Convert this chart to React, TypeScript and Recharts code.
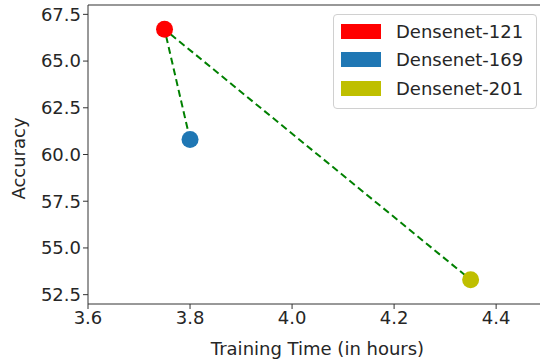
import React from 'react';
import { ComposedChart, Scatter, XAxis, YAxis, ReferenceLine } from 'recharts';

const models = ['Densenet-121', 'Densenet-169', 'Densenet-201'];
const trainingHours = [3.75, 3.8, 4.35];
const accuracy = [66.7, 60.8, 53.3];
const colors = ['#ff0000', '#1f77b4', '#bfbf00'];
// order in which the dashed line visits the models
const pathOrder = [1, 0, 2];
const xTicks = [3.6, 3.8, 4.0, 4.2, 4.4];
const yTicks = [52.5, 55.0, 57.5, 60.0, 62.5, 65.0, 67.5];

const font = '"DejaVu Sans", sans-serif';
const textColor = '#262626';

const points = models.map((name, i) => ({ name, x: trainingHours[i], y: accuracy[i], color: colors[i] }));
const pathData = pathOrder.map(i => points[i]);

const LegendBox = () => (
  <div
    style={{
      position: 'absolute',
      left: 333,
      top: 14,
      width: 204,
      boxSizing: 'border-box',
      border: '1px solid #d0d0d0',
      borderRadius: 4,
      background: 'rgba(255,255,255,0.9)',
      padding: '2px 6px 5px 7px',
      fontFamily: font,
      fontSize: 18,
      color: textColor,
    }}
  >
    {points.map(p => (
      <div key={p.name} style={{ display: 'flex', alignItems: 'center', height: 28.5 }}>
        <span style={{ width: 40, height: 15, background: p.color, marginRight: 15 }} />
        <span>{p.name}</span>
      </div>
    ))}
  </div>
);

const YLabel = ({ viewBox }: any) => {
  const cx = viewBox.x + 18;
  const cy = viewBox.y + viewBox.height / 2 + 4;
  return (
    <text
      x={cx}
      y={cy}
      transform={`rotate(-90, ${cx}, ${cy})`}
      textAnchor='middle'
      dominantBaseline='central'
      fontFamily={font}
      fontSize={18}
      fill={textColor}
    >
      Accuracy
    </text>
  );
};

// the original axes run slightly past the right edge of the picture
const XLabel = ({ viewBox }: any) => (
  <text
    x={viewBox.x + viewBox.width / 2 + 3.5}
    y={viewBox.y + 44}
    textAnchor='middle'
    dominantBaseline='central'
    fontFamily={font}
    fontSize={18}
    fill={textColor}
  >
    Training Time (in hours)
  </text>
);

export default function App() {
  return (
    <div style={{ position: 'absolute', left: 0, top: 0, width: 540, height: 362, background: '#fff' }}>
      <ComposedChart width={540} height={362} margin={{ top: 5, right: 0, left: 0, bottom: 0 }}>
        <XAxis
          type='number'
          dataKey='x'
          domain={[3.6, 4.486]}
          ticks={xTicks}
          tickFormatter={(v: number) => v.toFixed(1)}
          height={58}
          stroke='#333'
          tick={{ fill: textColor, fontFamily: font, fontSize: 18 }}
          tickSize={5}
          label={<XLabel />}
        />
        <YAxis
          type='number'
          dataKey='y'
          domain={[52, 68]}
          ticks={yTicks}
          tickFormatter={(v: number) => v.toFixed(1)}
          width={88}
          stroke='#333'
          tick={{ fill: textColor, fontFamily: font, fontSize: 18 }}
          tickSize={5}
          label={<YLabel />}
        />
        <ReferenceLine y={68} stroke='#333' strokeWidth={1.2} />
        <Scatter
          data={pathData}
          line={{ stroke: '#008000', strokeWidth: 2, strokeDasharray: '7 4' }}
          shape={() => <g />}
          legendType='none'
          isAnimationActive={false}
        />
        {points.map(p => (
          <Scatter key={p.name} name={p.name} data={[p]} fill={p.color} isAnimationActive={false}
            shape={(props: any) => <circle cx={props.cx} cy={props.cy} r={8.5} fill={p.color} />} />
        ))}
      </ComposedChart>
      <LegendBox />
    </div>
  );
}
